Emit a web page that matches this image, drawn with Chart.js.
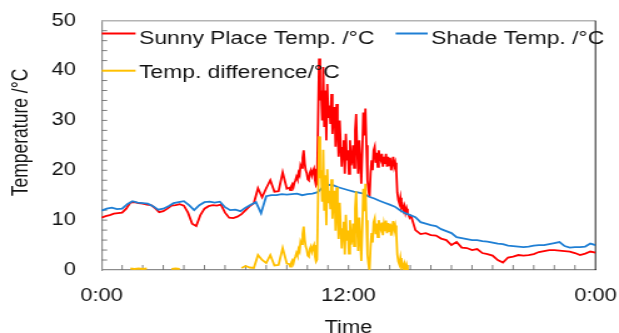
<!DOCTYPE html>
<html><head><meta charset="utf-8">
<script src="https://cdn.jsdelivr.net/npm/chart.js@4.4.1/dist/chart.umd.min.js"></script>
<style>
html,body{margin:0;padding:0;background:#fff;overflow:hidden}
#wrap{width:619px;height:333px;overflow:hidden;position:relative;background:#fff}
#inner{position:absolute;left:0;top:0;width:495px;height:339px;transform:scaleX(1.250505);transform-origin:0 0}
</style></head><body>
<div id="wrap"><div id="inner"><canvas id="c" width="495" height="339"></canvas></div></div>
<script>
// ---- data (hours of day, °C) ----
const legendLabels = ['Sunny Place Temp. /°C', 'Shade Temp. /°C', 'Temp. difference/°C'];
const xTickLabels = ['0:00', '12:00', '0:00'];
const yTitle = 'Temperature /°C';
const xTitle = 'Time';

// early part: 0:00 - 9:00, every 0.2 h
const earlyStart = 0, earlyStep = 0.2;
const sunnyEarly = [10.5,10.8,11.0,11.3,11.4,11.5,12.3,13.5,13.6,13.4,
  13.3,13.1,13.0,12.4,11.6,11.8,12.3,12.9,13.0,13.2,
  12.9,11.5,9.3,8.8,11.0,12.3,12.8,13.0,12.9,13.1,
  11.5,10.5,10.4,10.7,11.2,12.0,12.8,13.4,16.4,14.6,
  16.4,18.0,15.7,15.8,19.6,16.3];
const diffEarly = [null,null,null,null,null,null,null,0.3,0.2,0.3,
  0.2,0.3,null,null,null,null,null,0.2,0.3,0.2,
  null,null,null,null,null,null,null,null,null,null,
  null,null,null,null,0.4,0.8,0.5,0.4,3.0,2.0,
  1.4,3.0,0.9,1.0,4.4,1.3];

// midday part: every 0.05 h from 9.12 h
const noonStart = 9.12, noonStep = 0.05;
const sunnyNoon = [16.5,16.0,16.8,17.2,16.6,17.5,18.0,18.7,18.2,19.5,19.0,21.0,20.5,22.5,24.0,21.4,
  20.0,19.4,18.2,18.0,19.5,20.0,19.0,19.8,20.3,18.0,17.0,17.4,30.0,42.4,34.0,36.0,30.0,40.7,28.7,36.0,
  26.0,37.3,30.5,33.0,29.3,35.3,27.3,31.0,32.7,24.7,33.3,28.0,22.7,30.0,25.0,20.7,24.5,26.0,19.3,27.3,
  22.0,24.0,19.3,26.0,21.0,22.0,25.0,20.5,28.0,31.3,24.0,19.3,26.0,22.0,17.3,24.0,31.6,27.0,32.4,25.0,
  18.0,16.0,14.7,19.3,22.0,20.0,24.0,24.7,21.5,23.5,20.7,24.0,22.5,22.0,23.3,20.7,22.7,21.3,23.3,20.7,
  22.7,21.0,22.5,20.0,21.3,22.7,20.7,21.5,20.0,15.5,14.0,13.3,14.5,12.5,13.0,12.0,12.8,11.5,12.3,11.3,
  11.0,10.5,10.8,10.4];
const diffNoon = [1.2,0.7,1.5,1.9,1.3,2.2,2.7,3.4,2.9,4.2,3.7,5.7,5.2,7.2,8.7,6.1,
  4.7,4.1,2.9,2.7,4.2,4.7,3.7,4.5,5.0,2.7,1.7,2.1,14.4,26.8,18.4,20.0,13.7,24.1,11.9,19.0,
  9.0,20.2,13.4,15.9,12.2,18.2,10.3,14.1,15.9,7.9,16.6,11.4,6.2,13.5,8.6,4.3,8.2,9.7,3.1,11.1,
  5.9,7.9,3.3,10.0,5.1,6.2,9.3,4.8,12.4,15.8,8.5,3.8,10.5,6.5,1.8,8.5,16.3,11.8,17.3,10.0,
  3.1,1.2,0.0,4.6,7.4,5.5,9.6,10.3,7.2,9.3,6.6,10.0,8.6,8.1,9.5,7.0,9.1,7.8,9.9,7.4,
  9.4,7.8,9.3,6.9,8.3,9.8,7.9,8.9,7.5,3.1,1.7,1.1,2.4,0.6,1.2,0.3,1.2,0.1,1.0,0.0,
  null,null,null,null];

// late part: every 0.25 h from 15.25 h
const lateStart = 15.25, lateStep = 0.25;
const sunnyLate = [8.0,7.2,7.4,7.0,6.9,6.3,6.0,5.0,5.6,4.5,
  4.4,4.0,4.2,3.4,3.2,2.9,2.0,1.5,2.5,2.7,
  3.0,2.9,3.0,3.2,3.6,3.8,4.0,4.0,3.9,3.8,
  3.7,3.4,3.0,3.3,3.7,3.5];

// shade: every 0.25 h from 0:00
const shadeStart = 0, shadeStep = 0.25;
const shadeTemps = [11.9,12.3,12.5,12.2,12.3,13.2,13.8,13.5,13.4,13.3,
  12.8,12.1,12.3,12.8,13.4,13.6,13.8,13.0,12.0,13.0,
  13.6,13.7,13.5,13.7,12.6,12.0,12.1,11.8,12.5,13.1,
  13.6,11.4,14.8,15.0,15.0,15.2,15.1,15.2,15.3,15.0,
  15.2,15.3,15.6,16.6,17.1,17.0,16.6,16.3,16.0,15.7,
  15.5,15.3,14.7,14.35,13.9,13.5,13.1,12.7,12.0,11.4,
  11.0,10.6,9.6,9.3,9.0,8.8,8.2,7.8,7.4,6.6,
  6.4,6.2,6.0,6.0,5.8,5.7,5.5,5.3,5.2,4.9,
  4.8,4.7,4.6,4.7,4.9,5.0,5.0,5.2,5.4,5.6,
  4.8,4.5,4.6,4.6,4.7,5.3,5.0];

function series(start, step, values) {
  return values.map((v, i) => ({ x: +(start + i * step).toFixed(3), y: v }));
}
const sunnyData = [].concat(series(earlyStart, earlyStep, sunnyEarly),
  series(noonStart, noonStep, sunnyNoon), series(lateStart, lateStep, sunnyLate));
const shadeData = series(shadeStart, shadeStep, shadeTemps);
const diffData = [].concat(series(earlyStart, earlyStep, diffEarly), series(noonStart, noonStep, diffNoon));

// ---- styling ----
const FONT = "'Liberation Sans', Arial, Helvetica, sans-serif";
const colors = ['#ff0000', '#1f7fd4', '#ffc000'];

const framePlugin = {
  id: 'frame',
  beforeDatasetsDraw(chart) {
    const { ctx, chartArea: a, scales: { x, y } } = chart;
    ctx.save();
    ctx.strokeStyle = '#b4b4b4'; ctx.lineWidth = 1.4;
    ctx.beginPath(); ctx.moveTo(a.left, a.top); ctx.lineTo(a.right, a.top); ctx.stroke();
    ctx.strokeStyle = '#000'; ctx.lineWidth = 0.9;
    ctx.beginPath(); ctx.moveTo(a.right, a.top); ctx.lineTo(a.right, a.bottom); ctx.stroke();
    ctx.strokeStyle = '#6e6e6e'; ctx.lineWidth = 0.9;
    ctx.beginPath();
    for (let h = 1; h < 24; h++) {
      const px = x.getPixelForValue(h);
      ctx.moveTo(px, a.bottom); ctx.lineTo(px, a.bottom - 5);
    }
    for (let v = 2; v < 50; v += 2) {
      const py = y.getPixelForValue(v);
      ctx.moveTo(a.left, py); ctx.lineTo(a.left + 4.5, py);
    }
    ctx.stroke();
    ctx.fillStyle = '#111';
    ctx.font = '17.5px ' + FONT;
    ctx.textAlign = 'center'; ctx.textBaseline = 'middle';
    ctx.translate(17.2, 132.5); ctx.rotate(-Math.PI / 2);
    ctx.fillText(yTitle, 0, 0);
    ctx.restore();
  },
  afterDatasetsDraw(chart) {
    const { ctx } = chart;
    const items = [
      { lx: 81.4, lx2: 108.4, ly: 33.5, tx: 111.2, ty: 43.5 },
      { lx: 316.4, lx2: 342.0, ly: 33.5, tx: 344.7, ty: 43.5 },
      { lx: 81.4, lx2: 108.4, ly: 70.7, tx: 111.2, ty: 78.0 }
    ];
    ctx.save();
    items.forEach((it, i) => {
      ctx.strokeStyle = colors[i]; ctx.lineWidth = 2;
      ctx.beginPath(); ctx.moveTo(it.lx, it.ly); ctx.lineTo(it.lx2, it.ly); ctx.stroke();
      ctx.fillStyle = '#111';
      ctx.font = '18.3px ' + FONT;
      ctx.textAlign = 'left'; ctx.textBaseline = 'alphabetic';
      ctx.fillText(legendLabels[i], it.tx, it.ty);
    });
    ctx.restore();
  }
};

const lineDs = (i, data, order) => ({
  label: legendLabels[i], data, borderColor: colors[i], backgroundColor: colors[i],
  borderWidth: 1.8, pointRadius: 0, tension: 0, fill: false, order, spanGaps: false
});

new Chart(document.getElementById('c'), {
  type: 'line',
  data: { datasets: [lineDs(0, sunnyData, 3), lineDs(1, shadeData, 2), lineDs(2, diffData, 1)] },
  options: {
    responsive: false, animation: false, devicePixelRatio: 1,
    layout: { padding: { top: 20.7, right: 18.8, bottom: 0, left: 0 } },
    plugins: { legend: { display: false }, tooltip: { enabled: false } },
    scales: {
      x: {
        type: 'linear', min: 0, max: 24,
        afterFit(s) { s.height = 69; s.paddingLeft = 0; s.paddingRight = 0; },
        grid: { display: false, drawTicks: false },
        border: { display: true, color: '#8c8c8c', width: 1.2 },
        ticks: {
          stepSize: 12, padding: 16, color: '#111', maxRotation: 0, autoSkip: false,
          font: { family: FONT, size: 17.5 },
          callback: (v) => xTickLabels[Math.round(v / 12)]
        },
        title: { display: true, text: xTitle, color: '#111', padding: 0, font: { family: FONT, size: 17.5 } }
      },
      y: {
        min: 0, max: 50,
        afterFit(s) { s.width = 81.2; s.paddingTop = 0; s.paddingBottom = 0; },
        grid: { display: false, drawTicks: false },
        border: { display: true, color: '#8c8c8c', width: 1.2 },
        ticks: { stepSize: 10, padding: 20.4, color: '#111', font: { family: FONT, size: 17.5 } }
      }
    }
  },
  plugins: [framePlugin]
});
</script>
</body></html>
